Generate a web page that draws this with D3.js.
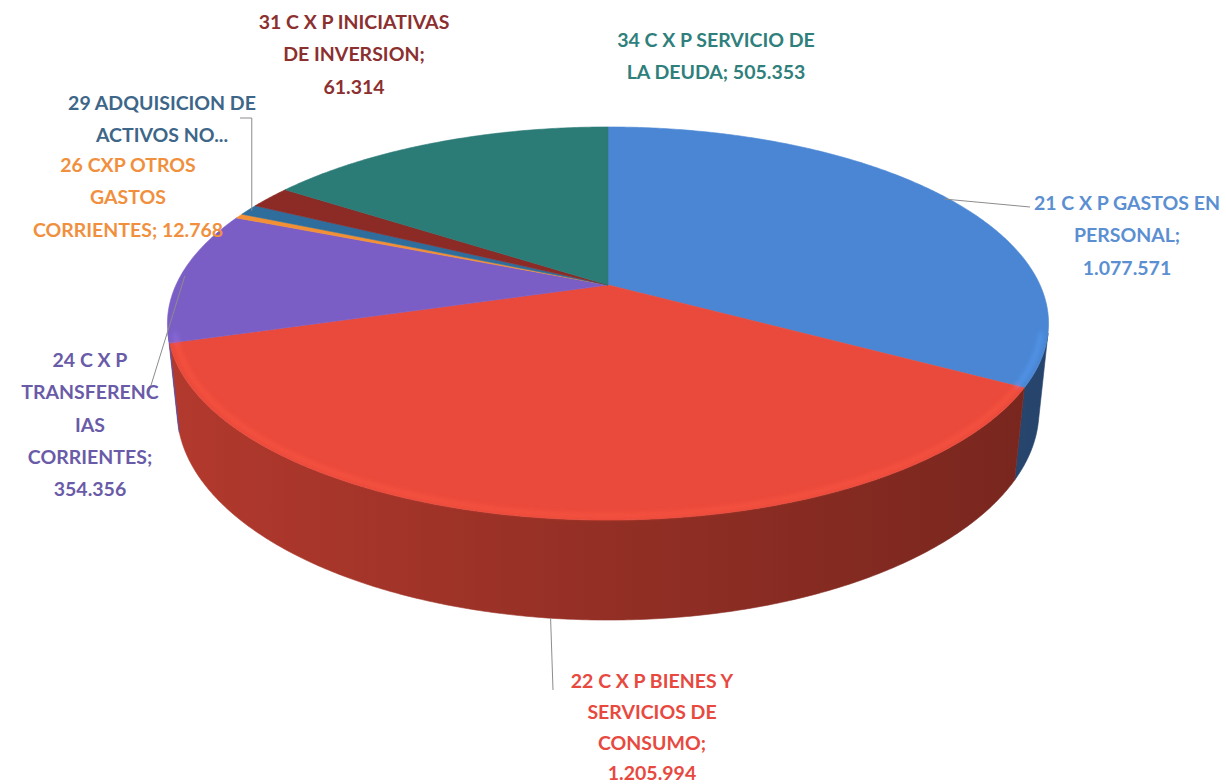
<!DOCTYPE html>
<html>
<head>
<meta charset="utf-8">
<script src="https://cdn.jsdelivr.net/npm/d3@7"></script>
<style>
  body { margin: 0; background: #fff; }
  #chart text { font-family: Lato, "Open Sans", sans-serif; font-weight: 700; }
</style>
</head>
<body>
<div id="chart"></div>
<script>
// data
const categories = [
  '21 C X P GASTOS EN PERSONAL',
  '22 C X P BIENES Y SERVICIOS DE CONSUMO',
  '24 C X P TRANSFERENCIAS CORRIENTES',
  '26 CXP OTROS GASTOS CORRIENTES',
  '29 ADQUISICION DE ACTIVOS NO FINANCIEROS',
  '31 C X P INICIATIVAS DE INVERSION',
  '34 C X P SERVICIO DE LA DEUDA'
];
const values = [1077571, 1205994, 354356, 12768, 30000, 61314, 505353];
const labelLines = [
  ['21 C X P GASTOS EN', 'PERSONAL;', '{v}'],
  ['22 C X P BIENES Y', 'SERVICIOS DE', 'CONSUMO;', '{v}'],
  ['24 C X P', 'TRANSFERENC', 'IAS', 'CORRIENTES;', '{v}'],
  ['26 CXP OTROS', 'GASTOS', 'CORRIENTES; {v}'],
  ['29 ADQUISICION DE', 'ACTIVOS NO...'],
  ['31 C X P INICIATIVAS', 'DE INVERSION;', '{v}'],
  ['34 C X P SERVICIO DE', 'LA DEUDA; {v}']
];

const colors = ['#4a86d3', '#ea4a3b', '#7a5ec6', '#f39035', '#2f6e9c', '#8c2a26', '#2b7b77'];
const labelColors = ['#5b8fd2', '#e8493f', '#6a5ba8', '#f0903e', '#3e6688', '#8c2f2f', '#2f7f7c'];

// label placement (first baseline) and leader shape
const labelLayout = [
  { x: 1127, y: 210, gap: 32.3, leader: 'line', to: [[1030, 207]] },
  { x: 652, y: 688, gap: 30.8, leader: 'bottom', to: [[553, 690]] },
  { x: 90, y: 367, gap: 32.3, leader: 'line', to: [[148, 395]] },
  { x: 128, y: 172, gap: 32.3 },
  { x: 162, y: 110, gap: 32.3, leader: 'elbow', to: [[null, 118], [240, 118]] },
  { x: 354, y: 29, gap: 32.3 },
  { x: 716, y: 47, gap: 32.3 }
];

const width = 1226, height = 784;
const fmt = d3.formatLocale({ decimal: ',', thousands: '.', grouping: [3], currency: ['', ''] }).format(',d');

// perspective view of the pie
const cam = { cx: 608, cy: 285, f: 1983, D: 4.59, a: Math.asin(0.4375), t: 0.2255 };
const sa = Math.sin(cam.a), ca = Math.cos(cam.a);

function proj(th, r, y) {
  const X = r * Math.sin(th), Z = -r * Math.cos(th);
  const yc = y * ca - Z * sa;
  const d = cam.D - (y * sa + Z * ca);
  return [cam.cx + cam.f * X / d, cam.cy - cam.f * yc / d];
}
function arcPts(a0, a1, r, y) {
  const n = Math.max(2, Math.ceil((a1 - a0) / (Math.PI / 360)));
  return d3.range(n + 1).map(i => proj(a0 + (a1 - a0) * i / n, r, y));
}

const thLo = Math.acos(-1 / (cam.D * ca));
const thHi = 2 * Math.PI - thLo;

const svg = d3.select('#chart')
  .append('svg')
  .attr('width', width)
  .attr('height', height);

const defs = svg.append('defs');
defs.append('filter').attr('id', 'soft')
  .append('feGaussianBlur').attr('stdDeviation', 2.2);

const arcs = d3.pie().sort(null).value(d => d)(values);
const line = d3.line();

arcs.forEach((a, i) => {
  const g = defs.append('linearGradient')
    .attr('id', 'side' + i)
    .attr('gradientUnits', 'userSpaceOnUse')
    .attr('x1', 165).attr('x2', 1050).attr('y1', 0).attr('y2', 0);
  g.append('stop').attr('offset', 0).attr('stop-color', d3.color(colors[i]).darker(0.75));
  g.append('stop').attr('offset', 0.5).attr('stop-color', d3.color(colors[i]).darker(1.3));
  g.append('stop').attr('offset', 1).attr('stop-color', d3.color(colors[i]).darker(1.9));
});

// side walls
const walls = svg.append('g');
arcs.forEach((a, i) => {
  const lo = Math.max(a.startAngle, thLo), hi = Math.min(a.endAngle, thHi);
  if (lo >= hi) return;
  const pts = arcPts(lo, hi, 1, 0).concat(arcPts(lo, hi, 1, -cam.t).reverse());
  walls.append('path')
    .attr('d', line(pts) + 'Z')
    .attr('fill', `url(#side${i})`)
    .attr('stroke', `url(#side${i})`)
    .attr('stroke-width', 0.6);
});

// top faces
const tops = svg.append('g');
arcs.forEach((a, i) => {
  const pts = [proj(0, 0, 0)].concat(arcPts(a.startAngle, a.endAngle, 1, 0));
  tops.append('path')
    .attr('d', line(pts) + 'Z')
    .attr('fill', colors[i])
    .attr('stroke', colors[i])
    .attr('stroke-width', 0.6);
});

// soft bevel highlight along the front rim
const bevel = svg.append('g').attr('filter', 'url(#soft)');
arcs.forEach((a, i) => {
  const lo = Math.max(a.startAngle, thLo), hi = Math.min(a.endAngle, thHi);
  if (lo >= hi) return;
  bevel.append('path')
    .attr('d', line(arcPts(lo, hi, 0.985, 0)))
    .attr('fill', 'none')
    .attr('stroke', d3.color(colors[i]).brighter(0.45))
    .attr('stroke-width', 5)
    .attr('stroke-opacity', 0.55);
});

// leader lines
const leaders = svg.append('g')
  .attr('fill', 'none')
  .attr('stroke', '#8c8c8c')
  .attr('stroke-width', 1);
arcs.forEach((a, i) => {
  const L = labelLayout[i];
  if (!L.leader) return;
  const mid = (a.startAngle + a.endAngle) / 2;
  const start = L.leader === 'bottom' ? proj(mid, 1, -cam.t) : proj(mid, 0.99, 0);
  const pts = [start].concat(L.to.map(p => [p[0] === null ? start[0] : p[0], p[1]]));
  leaders.append('path').attr('d', line(pts));
});

// data labels
const labels = svg.append('g').attr('text-anchor', 'middle').attr('font-size', 19.5);
arcs.forEach((a, i) => {
  const L = labelLayout[i];
  const t = labels.append('text')
    .attr('fill', labelColors[i])
    .attr('x', L.x)
    .attr('y', L.y);
  labelLines[i].forEach((s, k) => {
    t.append('tspan')
      .attr('x', L.x)
      .attr('y', L.y + k * L.gap)
      .text(s.replace('{v}', fmt(values[i])));
  });
});
</script>
</body>
</html>
